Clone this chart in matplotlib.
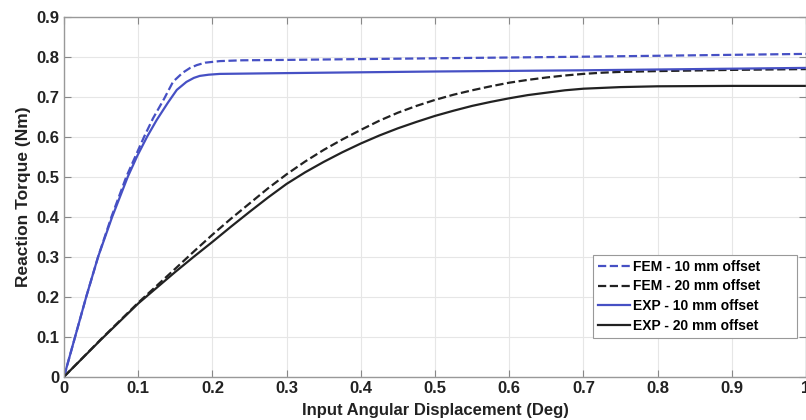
import matplotlib
matplotlib.use('Agg')
import matplotlib.pyplot as plt

plt.rcParams['font.family'] = ['Liberation Sans', 'DejaVu Sans']

# values
fem10_x = [0, 0.015, 0.03, 0.046, 0.064, 0.084, 0.096, 0.108, 0.12, 0.135, 0.147, 0.16, 0.17, 0.179,
           0.19, 0.21, 0.24, 0.3, 0.5, 0.7, 1.0]
fem10_y = [0, 0.1, 0.2, 0.3, 0.4, 0.5, 0.55, 0.6, 0.646, 0.695, 0.7375, 0.76, 0.772, 0.779,
           0.785, 0.789, 0.791, 0.792, 0.796, 0.80, 0.807]

exp10_x = [0, 0.015, 0.03, 0.046, 0.065, 0.086, 0.099, 0.112, 0.125, 0.14, 0.152, 0.165, 0.175, 0.183,
           0.195, 0.21, 0.3, 0.5, 0.7, 1.0]
exp10_y = [0, 0.1, 0.2, 0.3, 0.4, 0.5, 0.553, 0.6, 0.642, 0.685, 0.717, 0.737, 0.747, 0.752,
           0.755, 0.757, 0.759, 0.763, 0.766, 0.772]

off20_x = [0, 0.05, 0.1, 0.15, 0.175, 0.2, 0.225, 0.25, 0.275, 0.3, 0.325, 0.35, 0.375, 0.4, 0.425, 0.45, 0.475,
           0.5, 0.525, 0.55, 0.575, 0.6, 0.625, 0.65, 0.675, 0.7, 0.725, 0.75, 0.775, 0.8, 0.9, 1.0]
fem20_y = [0, 0.094, 0.185, 0.27, 0.313, 0.355, 0.395, 0.433, 0.471, 0.506, 0.538, 0.567, 0.593, 0.617, 0.64, 0.66, 0.677,
           0.692, 0.705, 0.716, 0.726, 0.735, 0.742, 0.748, 0.753, 0.757, 0.760, 0.762, 0.763, 0.764, 0.767, 0.769]
exp20_y = [0, 0.093, 0.183, 0.262, 0.30, 0.337, 0.375, 0.412, 0.448, 0.482, 0.511, 0.537, 0.561, 0.583, 0.603, 0.621, 0.637,
           0.652, 0.665, 0.677, 0.687, 0.696, 0.704, 0.71, 0.716, 0.72, 0.722, 0.724, 0.725, 0.726, 0.727, 0.727]

xticks = [0, 0.1, 0.2, 0.3, 0.4, 0.5, 0.6, 0.7, 0.8, 0.9, 1.0]
xtick_labels = ['0', '0.1', '0.2', '0.3', '0.4', '0.5', '0.6', '0.7', '0.8', '0.9', '1']
yticks = [0, 0.1, 0.2, 0.3, 0.4, 0.5, 0.6, 0.7, 0.8, 0.9]
ytick_labels = ['0', '0.1', '0.2', '0.3', '0.4', '0.5', '0.6', '0.7', '0.8', '0.9']

BLUE = '#4650C4'
BLACK = '#222222'

fig = plt.figure(figsize=(8.06, 4.2), dpi=100)
ax = fig.add_axes([64 / 806, 43.3 / 420, 742 / 806, 360 / 420])

ax.plot(fem10_x, fem10_y, '--', color=BLUE, lw=1.6, label='FEM - 10 mm offset')
ax.plot(off20_x, fem20_y, '--', color=BLACK, lw=1.6, label='FEM - 20 mm offset')
ax.plot(exp10_x, exp10_y, '-', color=BLUE, lw=1.6, label='EXP - 10 mm offset')
ax.plot(off20_x, exp20_y, '-', color=BLACK, lw=1.6, label='EXP - 20 mm offset')

ax.set_xlim(0, 1)
ax.set_ylim(0, 0.9)
ax.set_xticks(xticks)
ax.set_xticklabels(xtick_labels, fontsize=12, fontweight='bold', color='#222222')
ax.set_yticks(yticks)
ax.set_yticklabels(ytick_labels, fontsize=12, fontweight='bold', color='#222222')
ax.tick_params(direction='in', length=5, color='#888888', top=True, right=True, pad=3)
ax.grid(True, color='#e6e6e6', lw=0.8)
for s in ax.spines.values():
    s.set_color('#999999')
    s.set_linewidth(1.0)

ax.set_xlabel('Input Angular Displacement (Deg)', fontsize=12, fontweight='bold', color='#222222', labelpad=5)
ax.set_ylabel('Reaction Torque (Nm)', fontsize=12.5, fontweight='bold', color='#222222', labelpad=4)

leg = ax.legend(loc='lower left', bbox_to_anchor=(0.713, 0.1075, 0.275, 0.23), mode='expand',
                borderaxespad=0, prop={'weight': 'bold', 'size': 10}, handlelength=2.3,
                handletextpad=0.2, labelspacing=0.42, fancybox=False, framealpha=1,
                edgecolor='#999999', borderpad=0.35)
leg.get_frame().set_linewidth(0.8)

fig.savefig('out.png', dpi=100, facecolor='white')
